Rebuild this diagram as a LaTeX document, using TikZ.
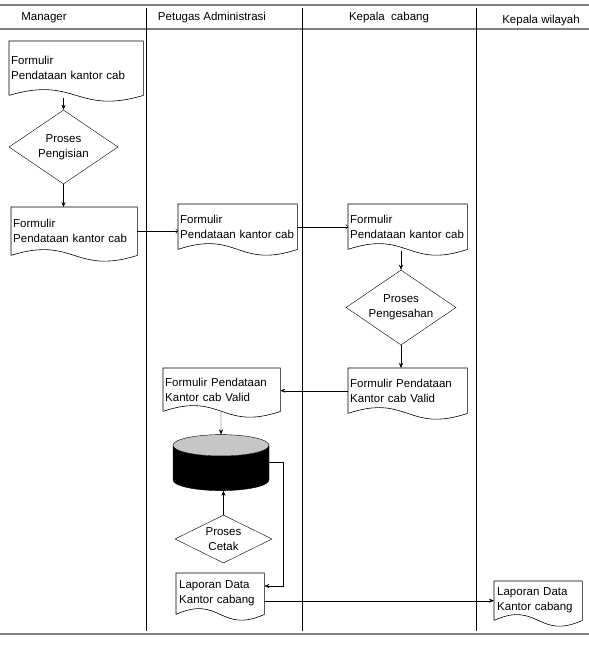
\documentclass[tikz,border=0pt]{standalone}
\usepackage{fontspec}
\setmainfont{Liberation Sans}
\usetikzlibrary{shapes.geometric,arrows.meta,calc}

\tikzset{
	txt/.style={font=\fontsize{11.5}{15}\selectfont},
	doc/.style={txt, anchor=north west, align=left, inner sep=2pt},
	proc/.style={txt, draw, diamond, align=center, inner sep=0pt},
	arr/.style={-{Stealth[length=5pt,width=4pt]}},
	rule/.style={gray, line width=1.2pt}
}

\begin{document}
\begin{tikzpicture}[x=1pt,y=-1pt]
	\def \wave {20} % pull of the wavy bottom edge
	\useasboundingbox (0,0) rectangle (589,646);

	% swimlanes
	\draw[rule] (0,5) -- (589,5);
	\draw[rule] (0,29) -- (589,29);
	\draw[rule, line width=1.8pt] (0,634) -- (589,634);
	\foreach \x in {146,302,476}
		\draw[line width=0.6pt] (\x,8) -- (\x,631);

	\node(hMgr)[txt] at (44,18) {Manager};
	\node(hAdm)[txt] at (212,18) {Petugas Administrasi};
	\node(hCab)[txt] at (389,18) {Kepala~~cabang};
	\node(hWil)[txt] at (541,21) {Kepala wilayah};

	% documents
	\node(f1)[doc, minimum width=134, minimum height=54, text width=130pt] at (9,41) {Formulir\\Pendataan kantor cab};
	\node(f2)[doc, minimum width=126, minimum height=48, text width=122pt] at (11,207) {Formulir\\Pendataan kantor cab};
	\node(f3)[doc, minimum width=119, minimum height=45, text width=115pt] at (178,204) {Formulir\\Pendataan kantor cab};
	\node(f4)[doc, minimum width=119, minimum height=45, text width=115pt] at (348,204) {Formulir\\Pendataan kantor cab};
	\node(f5)[doc, minimum width=119, minimum height=45, text width=115pt] at (348,368) {Formulir Pendataan\\Kantor cab Valid};
	\node(f6)[doc, minimum width=117, minimum height=43, text width=113pt] at (163,368) {Formulir Pendataan\\Kantor cab Valid};
	\node(f7)[doc, minimum width=88, minimum height=41, text width=82pt, inner sep=3pt] at (176,573) {Laporan Data\\Kantor cabang};
	\node(f8)[doc, minimum width=88, minimum height=39, text width=82pt, inner sep=3pt] at (494,581) {Laporan Data\\Kantor cabang};

	\foreach \d in {f1,f2,f3,f4,f5,f6,f7,f8}
	{
		\draw[line width=0.6pt] (\d.south west) -- (\d.north west) -- (\d.north east) -- (\d.south east)
			.. controls ($(\d.south)+(0,\wave)$) and ($(\d.south)+(0,-\wave)$) .. (\d.south west);
	}

	% processes
	\node(d1)[proc, aspect=1.5, minimum width=109, minimum height=74] at (63.5,147) {Proses\\Pengisian};
	\node(d2)[proc, aspect=1.5, minimum width=110, minimum height=75] at (401,307.5) {Proses\\Pengesahan};
	\node(d3)[proc, aspect=2, minimum width=97, minimum height=48] at (223.5,539) {Proses\\Cetak};

	% database
	\node(db)[draw, cylinder, shape border rotate=90, aspect=3.2, minimum width=96, minimum height=56,
		cylinder uses custom fill, cylinder body fill=black, cylinder end fill=gray!45] at (221,470) {};

	\coordinate (dbm) at ($(db.top)!0.5!(db.bottom)$);
	\coordinate (c1) at (283,586);

	\draw[arr, shorten <=3pt] (d1.north |- f1.south) -- (d1.north);
	\draw[arr] (d1.south) -- (d1.south |- f2.north);
	\draw[->] (f2.east) -- (f2.east -| f3.west);
	\draw[->] (f3.east) -- (f3.east -| f4.west);
	\draw[arr, shorten <=2pt] (d2.north |- f4.south) -- (d2.north);
	\draw[arr] (d2.south) -- (d2.south |- f5.north);
	\draw[arr] (f5.west) -- (f5.west -| f6.east);
	\draw[arr] (db.north |- f6.south) -- (db.top);
	\draw[arr] (d3.north) -- (d3.north |- db.bottom);
	\draw[arr] (dbm -| db.east) -| (c1) -- (c1 -| f7.east);
	\draw[arr] (f7.east |- f8.west) -- (f8.west);
\end{tikzpicture}
\end{document}
